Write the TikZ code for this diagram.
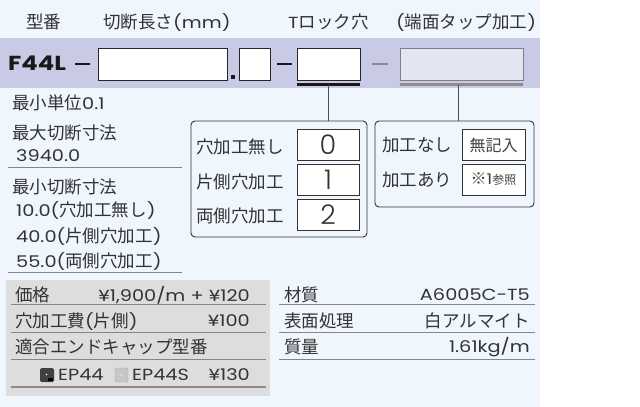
\documentclass[tikz,border=0pt]{standalone}
\usepackage{fontspec}
\setmainfont{Noto Sans CJK JP}
\newfontfamily\lt{Poppins}[Scale=0.92,FakeStretch=1.2]
\newfontfamily\ltl{Poppins}[UprightFont={* Light}]
\definecolor{bgblue}{HTML}{EFF6FD}
\definecolor{band}{HTML}{C8CAE6}
\definecolor{slotgrey}{HTML}{E4E5F2}
\definecolor{panel}{HTML}{DDDDDD}
\definecolor{txtc}{HTML}{333333}
\definecolor{rule}{HTML}{858585}
\tikzset{
  txt/.style={font=\fontsize{17.5}{18}\selectfont, text=txtc, inner sep=0pt},
  big/.style={font=\fontsize{27}{28}\selectfont\ltl, text=txtc, inner sep=0pt},
  slot/.style={draw=black!85, fill=white, line width=1pt, inner sep=0pt},
  optbox/.style={draw=black!80, fill=none, rounded corners=4pt, line width=0.9pt, inner sep=0pt},
  valbox/.style={draw=black!80, fill=white, line width=0.9pt, inner sep=0pt, minimum width=62pt, minimum height=31pt},
  link/.style={draw=black!70, line width=0.8pt},
  rl/.style={draw=rule, line width=0.9pt},
}
\begin{document}
\begin{tikzpicture}[x=1pt,y=-1pt]
\useasboundingbox (0,0) rectangle (640,407);
\fill[white] (0,0) rectangle (640,407);
\fill[bgblue] (0,0) rectangle (540,407);
\fill[band] (0,38) rectangle (540,88);
% header
\node[txt, anchor=west] (h1) at (26,22) {型番};
\node[txt, anchor=west] (h2) at (103,22) {切断長さ{\lt (mm)}};
\node[txt, anchor=west] (h3) at (288,22) {{\lt T}ロック穴};
\node[txt, anchor=west] (h4) at (396,22) {{\lt (}端面タップ加工{\lt )}};
% model row
\node[anchor=west, inner sep=0pt, text=black!90, font=\fontsize{22}{22}\selectfont\lt\bfseries] (model) at (8,63) {F44L};
\draw[line width=2.6pt, black!90] (75,64) -- (90,64);
\node[slot, minimum width=129pt, minimum height=32pt] (s1) at (162.5,64) {};
\fill[black!90] (231,75) rectangle (235,79);
\node[slot, minimum width=31pt, minimum height=32pt] (s2) at (254.5,64) {};
\draw[line width=2.6pt, black!90] (277,64) -- (292,64);
\node[slot, minimum width=63pt, minimum height=32pt] (s3) at (328.5,64) {};
\draw[line width=2.2pt, black!45] (372,64) -- (388,64);
\node[slot, draw=black!50, fill=slotgrey, minimum width=123pt, minimum height=32pt] (s4) at (461.5,64) {};
\draw[line width=3pt, black!90] (s3.south west) ++(0,4) -- ++(63,0);
\draw[line width=3pt, black!45] (s4.south west) ++(0,4) -- ++(123,0);
\coordinate (u3) at (328.5,85);
\coordinate (u4) at (458,85);
% option boxes
\node[optbox, minimum width=176pt, minimum height=116pt] (opt1) at (279,179) {};
\node[optbox, minimum width=159pt, minimum height=86pt] (opt2) at (454.5,164) {};
\draw[link] (u3) -- (u3 |- opt1.north);
\draw[link] (u4) -- (u4 |- opt2.north);
\node[txt, anchor=west] (o1a) at (196,147) {穴加工無し};
\node[txt, anchor=west] (o1b) at (196,181.5) {片側穴加工};
\node[txt, anchor=west] (o1c) at (196,216) {両側穴加工};
\node[valbox] (v0) at (328,145) {};
\node[valbox] (v1) at (328,179.5) {};
\node[valbox] (v2) at (328,214.5) {};
\node[big] at (v0) {0};
\node[big] at (v1) {1};
\node[big] at (v2) {2};
\node[txt, anchor=west] (o2a) at (382,145) {加工なし};
\node[txt, anchor=west] (o2b) at (382,180) {加工あり};
\node[valbox, minimum width=63pt] (w0) at (493.5,145) {};
\node[valbox, minimum width=63pt] (w1) at (493.5,179.5) {};
\node[txt, text=black!75, font=\fontsize{16}{16}\selectfont] at (w0) {無記入};
\node[txt, text=black!75, font=\fontsize{16}{16}\selectfont] at (w1) {※{\lt 1}{\fontsize{12}{12}\selectfont 参照}};
% left notes
\node[txt, anchor=west] (n1) at (12,103) {最小単位{\lt 0.1}};
\node[txt, anchor=west] (n2) at (12,133) {最大切断寸法};
\node[txt, anchor=west] (n3) at (16,156) {\lt 3940.0};
\draw[rl] (8,167) -- (182,167);
\node[txt, anchor=west] (n4) at (12,187) {最小切断寸法};
\node[txt, anchor=west] (n5) at (16,210.5) {{\lt 10.0(}穴加工無し{\lt )}};
\node[txt, anchor=west] (n6) at (16,236) {{\lt 40.0(}片側穴加工{\lt )}};
\node[txt, anchor=west] (n7) at (16,261.5) {{\lt 55.0(}両側穴加工{\lt )}};
\draw[rl] (8,272) -- (182,272);
% price panel
\fill[panel] (6,280) rectangle (270,396);
\node[txt, anchor=west] (p1) at (15,295) {価格};
\node[txt, anchor=east] (p1v) at (250,295) {\lt ¥1,900/m + ¥120};
\draw[rl] (11,304) -- (266,304);
\node[txt, anchor=west] (p2) at (15,321) {穴加工費{\lt (}片側{\lt )}};
\node[txt, anchor=east] (p2v) at (250,321) {\lt ¥100};
\draw[rl] (11,332) -- (266,332);
\node[txt, anchor=west] (p3) at (15,347) {適合エンドキャップ型番};
\draw[rl] (11,359) -- (266,359);
\fill[black!75, rounded corners=1.5pt] (40,368) rectangle (54,382);
\fill[black] (48,378) rectangle (53,381);
\fill[white] (46.5,374.5) circle (0.8);
\node[txt, anchor=west] (e1) at (58,375) {\lt EP44};
\fill[black!22, draw=black!35, rounded corners=1.5pt] (115,368) rectangle (128,382);
\fill[black!10] (121.5,375) circle (0.8);
\node[txt, anchor=west] (e2) at (132,375) {\lt EP44S};
\node[txt, anchor=east] (e3) at (250,375) {\lt ¥130};
\draw[draw=black!45, line width=2pt] (11,387) -- (266,387);
% spec table
\node[txt, anchor=west] (t1) at (284,295) {材質};
\node[txt, anchor=east] (t1v) at (530,295) {\lt A6005C-T5};
\draw[rl] (279,304) -- (535,304);
\node[txt, anchor=west] (t2) at (284,321) {表面処理};
\node[txt, anchor=east] (t2v) at (530,321) {白アルマイト};
\draw[rl] (279,332) -- (535,332);
\node[txt, anchor=west] (t3) at (284,347) {質量};
\node[txt, anchor=east] (t3v) at (530,347) {\lt 1.61kg/m};
\draw[rl] (279,359) -- (535,359);
\end{tikzpicture}
\end{document}
